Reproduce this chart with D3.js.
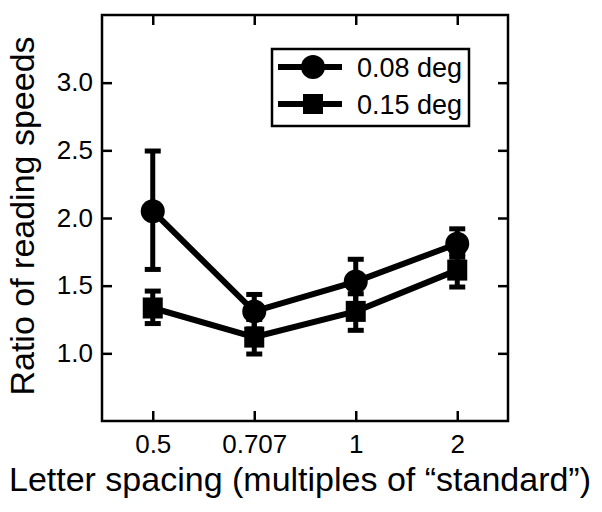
<!DOCTYPE html>
<html>
<head>
<meta charset="utf-8">
<script src="https://cdn.jsdelivr.net/npm/d3@7"></script>
<style>
  body { margin: 0; background: #fff; }
  text { font-family: "Liberation Sans", Arial, sans-serif; fill: #000; }
</style>
</head>
<body>
<svg width="602" height="512"></svg>
<script>
// spacing categories
const spacings = ["0.5", "0.707", "1", "2"];
const yTicks = [1.0, 1.5, 2.0, 2.5, 3.0];

// 0.08 deg (circles)
const small = [2.05, 1.31, 1.53, 1.81];
const smallLo = [1.62, 1.18, 1.36, 1.71];
const smallHi = [2.495, 1.435, 1.695, 1.92];

// 0.15 deg (squares)
const large = [1.335, 1.12, 1.31, 1.615];
const largeLo = [1.22, 0.995, 1.17, 1.49];
const largeHi = [1.46, 1.25, 1.44, 1.74];

const series = [
  { name: "0.08 deg", shape: "circle", v: small, lo: smallLo, hi: smallHi },
  { name: "0.15 deg", shape: "square", v: large, lo: largeLo, hi: largeHi }
];

const svg = d3.select("svg"),
  margin = { top: 15, right: 94, bottom: 91, left: 102 },
  width = 602 - margin.left - margin.right,
  height = 512 - margin.top - margin.bottom,
  g = svg.append("g").attr("transform", `translate(${margin.left},${margin.top})`);

const x = d3.scaleLinear().domain([0.5, 4.5]).range([0, width]);
const y = d3.scaleLinear().domain([0.5, 3.5]).range([height, 0]);

const tickLen = 10;

// axes with inward ticks on all four sides
const xAxis = g.append("g")
  .attr("transform", `translate(0,${height})`)
  .call(d3.axisBottom(x).tickValues([1, 2, 3, 4]).tickFormat((d) => spacings[d - 1])
    .tickSizeInner(-tickLen).tickSizeOuter(0).tickPadding(14));
const yAxis = g.append("g")
  .call(d3.axisLeft(y).tickValues(yTicks).tickFormat(d3.format(".1f"))
    .tickSizeInner(-tickLen).tickSizeOuter(0).tickPadding(9));
const xTop = g.append("g")
  .call(d3.axisTop(x).tickValues([1, 2, 3, 4]).tickFormat("")
    .tickSizeInner(-tickLen).tickSizeOuter(0));
const yRight = g.append("g")
  .attr("transform", `translate(${width},0)`)
  .call(d3.axisRight(y).tickValues(yTicks).tickFormat("")
    .tickSizeInner(-tickLen).tickSizeOuter(0));

[xAxis, yAxis, xTop, yRight].forEach((a) => {
  a.select(".domain").remove();
  a.selectAll("line").attr("stroke", "#000").attr("stroke-width", 2.5);
  a.selectAll("text").style("font-size", "26px").style("font-family", '"Liberation Sans", Arial, sans-serif');
});

g.append("rect")
  .attr("width", width).attr("height", height)
  .attr("fill", "none").attr("stroke", "#000").attr("stroke-width", 2.5);

// axis titles
svg.append("text")
  .attr("x", 300).attr("y", 491)
  .attr("text-anchor", "middle")
  .style("font-size", "34px")
  .text("Letter spacing (multiples of \u201Cstandard\u201D)");

svg.append("text")
  .attr("transform", "translate(34,216) rotate(-90)")
  .attr("text-anchor", "middle")
  .style("font-size", "34px")
  .text("Ratio of reading speeds");

// data
const line = d3.line().x((d, i) => x(i + 1)).y((d) => y(d));
const cap = 8;

series.forEach((s) => {
  g.append("path")
    .datum(s.v)
    .attr("d", line)
    .attr("fill", "none").attr("stroke", "#000").attr("stroke-width", 6);

  const eb = g.append("g").selectAll("g").data(s.v).enter().append("g");
  eb.append("line")
    .attr("x1", (d, i) => x(i + 1)).attr("x2", (d, i) => x(i + 1))
    .attr("y1", (d, i) => y(s.lo[i])).attr("y2", (d, i) => y(s.hi[i]))
    .attr("stroke", "#000").attr("stroke-width", 5);
  eb.append("line")
    .attr("x1", (d, i) => x(i + 1) - cap).attr("x2", (d, i) => x(i + 1) + cap)
    .attr("y1", (d, i) => y(s.lo[i])).attr("y2", (d, i) => y(s.lo[i]))
    .attr("stroke", "#000").attr("stroke-width", 5);
  eb.append("line")
    .attr("x1", (d, i) => x(i + 1) - cap).attr("x2", (d, i) => x(i + 1) + cap)
    .attr("y1", (d, i) => y(s.hi[i])).attr("y2", (d, i) => y(s.hi[i]))
    .attr("stroke", "#000").attr("stroke-width", 5);

  if (s.shape === "circle") {
    g.selectAll(null).data(s.v).enter().append("circle")
      .attr("cx", (d, i) => x(i + 1)).attr("cy", (d) => y(d))
      .attr("r", 12).attr("fill", "#000");
  } else {
    g.selectAll(null).data(s.v).enter().append("rect")
      .attr("x", (d, i) => x(i + 1) - 10).attr("y", (d) => y(d) - 10.5)
      .attr("width", 20).attr("height", 21).attr("fill", "#000");
  }
});

// legend
const legend = svg.append("g").attr("transform", "translate(272,49)");
legend.append("rect")
  .attr("width", 197).attr("height", 77)
  .attr("fill", "#fff").attr("stroke", "#000").attr("stroke-width", 2.5);

series.forEach((s, i) => {
  const ly = 18 + i * 37;
  legend.append("line")
    .attr("x1", 6).attr("x2", 70).attr("y1", ly).attr("y2", ly)
    .attr("stroke", "#000").attr("stroke-width", 6);
  if (s.shape === "circle") {
    legend.append("circle").attr("cx", 41).attr("cy", ly).attr("r", 12).attr("fill", "#000");
  } else {
    legend.append("rect").attr("x", 31).attr("y", ly - 10).attr("width", 20).attr("height", 20).attr("fill", "#000");
  }
  legend.append("text")
    .attr("x", 85).attr("y", ly + 10)
    .style("font-size", "27px")
    .text(s.name);
});
</script>
</body>
</html>
